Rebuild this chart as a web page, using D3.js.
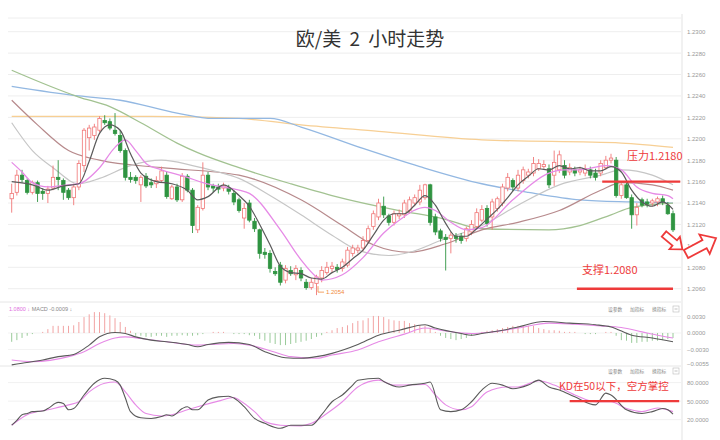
<!DOCTYPE html>
<html><head><meta charset="utf-8">
<script src="https://cdn.jsdelivr.net/npm/d3@7"></script>
<style>body{margin:0;background:#fff}svg{display:block}</style>
</head><body><svg id="c" width="720" height="440"></svg>
<script>
const titleText = "欧/美 2 小时走势";
const opens  = [1.2144,1.2150,1.2166,1.2161,1.2150,1.2159,1.2151,1.2149,1.2154,1.2164,1.2161,1.2152,1.2145,1.2155,1.2175,1.2201,1.2203,1.2208,1.2217,1.2216,1.2208,1.2203,1.2189,1.2164,1.2164,1.2157,1.2165,1.2159,1.2158,1.2161,1.2166,1.2144,1.2155,1.2143,1.2165,1.2152,1.2115,1.2135,1.2166,1.2156,1.2155,1.2154,1.2154,1.2149,1.2143,1.2126,1.2140,1.2123,1.2115,1.2094,1.2093,1.2076,1.2082,1.2068,1.2077,1.2073,1.2077,1.2066,1.2061,1.2065,1.2070,1.2075,1.2079,1.2080,1.2079,1.2082,1.2093,1.2096,1.2098,1.2105,1.2118,1.2127,1.2137,1.2128,1.2122,1.2128,1.2129,1.2133,1.2140,1.2141,1.2145,1.2157,1.2127,1.2114,1.2108,1.2107,1.2109,1.2109,1.2107,1.2113,1.2118,1.2124,1.2135,1.2127,1.2135,1.2140,1.2154,1.2161,1.2154,1.2161,1.2166,1.2168,1.2172,1.2174,1.2172,1.2166,1.2171,1.2175,1.2169,1.2171,1.2169,1.2168,1.2171,1.2168,1.2168,1.2173,1.2180,1.2180,1.2147,1.2157,1.2145,1.2129,1.2143,1.2141,1.2140,1.2141,1.2144,1.2138,1.2130];
const highs  = [1.2158,1.2171,1.2171,1.2163,1.2161,1.2161,1.2154,1.2156,1.2175,1.2180,1.2163,1.2154,1.2158,1.2180,1.2210,1.2213,1.2214,1.2221,1.2222,1.2219,1.2224,1.2208,1.2191,1.2169,1.2166,1.2166,1.2168,1.2163,1.2165,1.2174,1.2169,1.2157,1.2158,1.2168,1.2167,1.2154,1.2138,1.2178,1.2169,1.2158,1.2158,1.2159,1.2157,1.2152,1.2145,1.2140,1.2143,1.2126,1.2116,1.2098,1.2096,1.2080,1.2085,1.2082,1.2081,1.2082,1.2080,1.2069,1.2070,1.2073,1.2081,1.2085,1.2085,1.2083,1.2088,1.2099,1.2101,1.2101,1.2109,1.2119,1.2133,1.2144,1.2146,1.2130,1.2133,1.2134,1.2143,1.2146,1.2148,1.2157,1.2158,1.2158,1.2130,1.2116,1.2111,1.2113,1.2112,1.2112,1.2118,1.2124,1.2135,1.2138,1.2138,1.2144,1.2146,1.2158,1.2168,1.2163,1.2171,1.2174,1.2172,1.2183,1.2181,1.2180,1.2176,1.2189,1.2189,1.2180,1.2177,1.2174,1.2174,1.2176,1.2174,1.2172,1.2180,1.2184,1.2186,1.2183,1.2159,1.2159,1.2148,1.2140,1.2145,1.2144,1.2144,1.2146,1.2147,1.2141,1.2133];
const lows   = [1.2131,1.2147,1.2159,1.2148,1.2148,1.2141,1.2143,1.2140,1.2152,1.2152,1.2143,1.2143,1.2138,1.2152,1.2169,1.2189,1.2199,1.2206,1.2213,1.2208,1.2203,1.2187,1.2161,1.2159,1.2158,1.2141,1.2154,1.2154,1.2154,1.2159,1.2144,1.2143,1.2141,1.2141,1.2150,1.2112,1.2112,1.2133,1.2152,1.2150,1.2149,1.2151,1.2148,1.2138,1.2131,1.2116,1.2122,1.2113,1.2088,1.2088,1.2075,1.2072,1.2063,1.2065,1.2072,1.2068,1.2067,1.2059,1.2059,1.2054,1.2066,1.2073,1.2075,1.2075,1.2076,1.2080,1.2090,1.2093,1.2095,1.2102,1.2115,1.2124,1.2126,1.2119,1.2119,1.2125,1.2126,1.2130,1.2137,1.2138,1.2143,1.2119,1.2110,1.2104,1.2077,1.2093,1.2103,1.2102,1.2104,1.2110,1.2116,1.2122,1.2118,1.2115,1.2132,1.2137,1.2151,1.2151,1.2151,1.2158,1.2163,1.2165,1.2170,1.2172,1.2154,1.2156,1.2168,1.2163,1.2166,1.2165,1.2166,1.2165,1.2163,1.2161,1.2165,1.2171,1.2177,1.2145,1.2144,1.2144,1.2116,1.2119,1.2136,1.2136,1.2137,1.2137,1.2138,1.2129,1.2113];
const closes = [1.2149,1.2166,1.2162,1.2150,1.2159,1.2149,1.2149,1.2153,1.2164,1.2162,1.2150,1.2145,1.2155,1.2177,1.2208,1.2210,1.2211,1.2219,1.2215,1.2210,1.2205,1.2189,1.2164,1.2162,1.2161,1.2164,1.2156,1.2157,1.2161,1.2170,1.2146,1.2155,1.2143,1.2165,1.2152,1.2119,1.2136,1.2166,1.2155,1.2154,1.2153,1.2156,1.2151,1.2141,1.2133,1.2135,1.2124,1.2116,1.2093,1.2092,1.2079,1.2074,1.2066,1.2079,1.2074,1.2079,1.2070,1.2061,1.2066,1.2071,1.2077,1.2080,1.2081,1.2078,1.2085,1.2096,1.2098,1.2098,1.2105,1.2116,1.2130,1.2140,1.2129,1.2122,1.2130,1.2130,1.2140,1.2143,1.2145,1.2152,1.2157,1.2122,1.2113,1.2107,1.2106,1.2110,1.2107,1.2105,1.2116,1.2120,1.2131,1.2134,1.2121,1.2141,1.2144,1.2155,1.2164,1.2155,1.2166,1.2171,1.2169,1.2177,1.2177,1.2176,1.2157,1.2178,1.2185,1.2166,1.2173,1.2168,1.2171,1.2172,1.2166,1.2164,1.2177,1.2180,1.2182,1.2147,1.2157,1.2145,1.2129,1.2136,1.2138,1.2139,1.2142,1.2144,1.2141,1.2130,1.2115];

// moving averages: [candle index, price]
const ma5  = [[0,1.2160],[4,1.2157],[7,1.2152],[10,1.2156],[13,1.2158],[15,1.2179],[17,1.2205],[19,1.2213],[21,1.2208],[23,1.2186],[25,1.2168],[28,1.2160],[31,1.2158],[34,1.2152],[36,1.2143],[38,1.2146],[41,1.2157],[44,1.2147],[46,1.2137],[48,1.2120],[50,1.2101],[52,1.2081],[54,1.2075],[56,1.2074],[58,1.2070],[60,1.2069],[62,1.2075],[64,1.2080],[66,1.2088],[68,1.2096],[70,1.2110],[72,1.2124],[74,1.2130],[76,1.2130],[78,1.2138],[80,1.2147],[82,1.2138],[84,1.2121],[86,1.2109],[88,1.2109],[90,1.2116],[92,1.2125],[94,1.2134],[96,1.2145],[98,1.2157],[100,1.2165],[102,1.2172],[104,1.2171],[106,1.2175],[108,1.2172],[110,1.2173],[112,1.2170],[114,1.2170],[116,1.2174],[118,1.2169],[120,1.2152],[122,1.2141],[124,1.2137],[126,1.2141],[128,1.2134]];
const ma10 = [[0,1.2178],[2,1.2169],[4,1.2159],[7,1.2155],[11,1.2157],[13,1.2158],[17,1.2173],[20,1.2192],[22,1.2199],[24,1.2189],[26,1.2177],[29,1.2171],[34,1.2164],[37,1.2159],[44,1.2152],[46,1.2149],[52,1.2115],[56,1.2087],[59,1.2071],[60,1.2068],[64,1.2073],[68,1.2089],[72,1.2112],[75,1.2124],[80,1.2136],[82,1.2133],[85,1.2122],[88,1.2115],[91,1.2117],[97,1.2143],[104,1.2168],[107,1.2171],[110,1.2171],[115,1.2175],[118,1.2171],[121,1.2155],[124,1.2149],[127,1.2147],[128,1.2144]];
const ma20 = [[0,1.2215],[4,1.2189],[8,1.2173],[13,1.2158],[17,1.2163],[23,1.2175],[29,1.2180],[35,1.2175],[40,1.2169],[44,1.2163],[50,1.2147],[56,1.2129],[62,1.2110],[67,1.2096],[73,1.2091],[77,1.2094],[83,1.2105],[91,1.2119],[98,1.2138],[106,1.2157],[114,1.2166],[118,1.2171],[124,1.2166],[128,1.2157]];
const ma60 = [[0,1.2236],[5,1.2213],[11,1.2189],[17,1.2180],[29,1.2173],[44,1.2166],[56,1.2143],[64,1.2119],[70,1.2101],[77,1.2094],[84,1.2102],[91,1.2115],[98,1.2122],[106,1.2133],[114,1.2152],[118,1.2159],[124,1.2157],[128,1.2152]];
const ma120 = [[0,1.2264],[13,1.2239],[19,1.2230],[25,1.2215],[32,1.2196],[36,1.2187],[44,1.2173],[54,1.2158],[62,1.2147],[75,1.2133],[83,1.2126],[91,1.2116],[104,1.2115],[110,1.2119],[116,1.2129],[120,1.2136],[128,1.2140]];
const ma200 = [[0,1.2249],[13,1.2240],[21,1.2236],[32,1.2224],[39,1.2219],[50,1.2219],[56,1.2211],[68,1.2191],[79,1.2174],[91,1.2158],[100,1.2150],[110,1.2143],[120,1.2141],[128,1.2140]];
const ma250 = [[0,1.2221],[27,1.2221],[44,1.2219],[56,1.2213],[71,1.2207],[91,1.2199],[118,1.2196],[128,1.2192]];

const macdHist = [-0.0016,-0.0013,-0.0009,-0.0005,-0.0002,0,0.0002,0.0007,0.0013,0.0013,0.0013,0.0013,0.0014,0.0020,0.0029,0.0034,0.0038,0.0038,0.0036,0.0032,0.0027,0.0020,0.0011,0.0004,-0.0005,-0.0005,-0.0007,-0.0007,-0.0005,-0.0005,-0.0007,-0.0005,-0.0005,-0.0004,-0.0005,-0.0005,-0.0004,-0.0002,0,0.0002,0.0002,0.0002,0,-0.0002,-0.0002,-0.0002,-0.0004,-0.0005,-0.0011,-0.0014,-0.0018,-0.0020,-0.0022,-0.0022,-0.0020,-0.0018,-0.0016,-0.0014,-0.0011,-0.0007,-0.0004,0.0002,0.0005,0.0009,0.0011,0.0014,0.0018,0.0022,0.0023,0.0027,0.0031,0.0031,0.0029,0.0025,0.0023,0.0022,0.0022,0.0018,0.0016,0.0014,0.0013,0.0009,0.0002,-0.0005,-0.0009,-0.0011,-0.0013,-0.0011,-0.0009,-0.0005,-0.0002,0.0002,0.0004,0.0005,0.0007,0.0009,0.0011,0.0013,0.0013,0.0013,0.0013,0.0013,0.0009,0.0007,0.0005,0.0005,0.0004,0.0002,0.0002,0.0002,0,-0.0002,-0.0002,-0.0002,0,0.0002,0.0002,-0.0005,-0.0013,-0.0014,-0.0018,-0.0018,-0.0016,-0.0016,-0.0014,-0.0014,-0.0013,-0.0011,-0.0009];
const macdDif = [[0,-0.0058],[2,-0.0055],[6,-0.0049],[9,-0.0043],[12,-0.0039],[15,-0.0022],[17,-0.0007],[20,0.0001],[22,-0.0001],[24,-0.0007],[27,-0.0013],[30,-0.0016],[34,-0.0021],[36,-0.0025],[38,-0.0021],[42,-0.0017],[46,-0.0021],[49,-0.0034],[53,-0.0045],[56,-0.0046],[59,-0.0043],[62,-0.0037],[67,-0.0021],[71,-0.0004],[75,0.0005],[80,0.0015],[82,0.0009],[87,-0.0001],[89,-0.0004],[91,-0.0001],[95,0.0005],[98,0.0011],[103,0.0021],[108,0.0018],[113,0.0015],[116,0.0011],[120,-0.0004],[124,-0.0009],[128,-0.0016]];
const macdDea = [[0,-0.0049],[4,-0.0052],[11,-0.0043],[14,-0.0034],[17,-0.0019],[20,-0.0009],[22,-0.0007],[25,-0.0010],[30,-0.0016],[36,-0.0022],[43,-0.0019],[46,-0.0022],[51,-0.0035],[54,-0.0043],[59,-0.0046],[62,-0.0040],[67,-0.0031],[71,-0.0016],[76,-0.0002],[80,0.0009],[83,0.0005],[89,-0.0001],[93,0.0002],[98,0.0009],[104,0.0018],[109,0.0016],[114,0.0013],[118,0.0010],[122,0.0002],[125,-0.0004],[128,-0.0009]];
const kdK = [[0,11],[1,19],[2,28],[3,30],[4,33],[6,34],[7,38],[9,48],[10,46],[11,36],[12,38],[14,60],[16,79],[18,87],[20,84],[21,76],[22,55],[23,33],[25,23],[27,22],[29,25],[30,28],[31,26],[33,38],[34,41],[35,36],[36,36],[38,52],[40,57],[42,58],[43,55],[45,41],[47,22],[49,14],[52,6],[54,11],[56,11],[58,11],[60,28],[62,49],[64,60],[66,76],[67,84],[71,87],[72,82],[75,73],[77,76],[80,79],[81,81],[83,36],[85,33],[87,36],[89,49],[91,68],[93,79],[95,76],[97,70],[100,76],[102,84],[104,73],[106,68],[109,57],[113,44],[115,63],[116,60],[119,36],[122,30],[124,33],[126,38],[127,36],[128,29]];
const kdD = [[0,11],[3,28],[7,36],[11,44],[13,49],[15,65],[18,79],[20,81],[22,65],[24,44],[26,30],[29,26],[31,28],[34,36],[36,41],[40,50],[43,56],[44,52],[47,33],[49,17],[52,11],[56,10],[58,14],[61,30],[64,49],[67,73],[71,84],[74,76],[80,77],[82,60],[84,44],[87,36],[89,41],[92,65],[96,73],[98,73],[102,83],[105,76],[109,60],[113,49],[116,49],[119,38],[122,33],[125,39],[128,33]];

const priceTicks = [1.2060,1.2080,1.2100,1.2120,1.2140,1.2160,1.2180,1.2200,1.2220,1.2240,1.2260,1.2280,1.2300];
const macdTicks = [0.0030,0,-0.0030,-0.0055];
const kdTicks = [80,50,20];
const resistance = {level:1.2160, label:"压力1.2180", from:114.3, to:129.4};
const support = {level:1.2060, label:"支撑1.2080", from:109.4, to:128};
const kdNote = {level:50, label:"KD在50以下，空方掌控", from:108, to:129.2};
const lowPoint = {index:59, label:"1.2054"};
const macdLegend = ["1.0800 ↓", "MACD -0.0009 ↓"];
const panelButtons = ["设参数","加指标","换指标"];

const svg = d3.select("#c");
const x = d3.scaleLinear().domain([0,128]).range([11.7,673]);
const y = d3.scaleLinear().domain([1.2060,1.2300]).range([288.7,31.7]);
const yM = d3.scaleLinear().domain([-0.006,0.006]).range([366,300]);
const yK = d3.scaleLinear().domain([0,100]).range([432,370.3]);
const L = 8, R = 681;
const numFont = "'Liberation Sans', Arial, sans-serif";
const cjk = "'Noto Sans CJK SC', sans-serif";

// grid
const g = svg.append("g");
g.append("line").attr("x1",L).attr("x2",R).attr("y1",18).attr("y2",18).attr("stroke","#eeeeee");
g.selectAll(".gp").data(priceTicks).join("line").attr("x1",L).attr("x2",R)
  .attr("y1",d=>y(d)).attr("y2",d=>y(d)).attr("stroke","#eeeeee");
[302,366].forEach(v=>g.append("line").attr("x1",0).attr("x2",R).attr("y1",v).attr("y2",v).attr("stroke","#e6e6e6"));
g.selectAll(".gm").data(macdTicks.slice(0,3)).join("line").attr("x1",L).attr("x2",R)
  .attr("y1",d=>yM(d)).attr("y2",d=>yM(d)).attr("stroke","#f3f3f3");
g.selectAll(".gk").data(kdTicks).join("line").attr("x1",L).attr("x2",R)
  .attr("y1",d=>yK(d)).attr("y2",d=>yK(d)).attr("stroke","#f1f1f1");
g.append("line").attr("x1",682).attr("x2",682).attr("y1",14).attr("y2",440).attr("stroke","#e3e3e3");

// axes
function styleAxis(sel){
  sel.select(".domain").remove();
  sel.selectAll("text").attr("font-size",6).attr("fill","#999").attr("font-family",numFont);
}
svg.append("g").attr("transform","translate(683,0)")
  .call(d3.axisRight(y).tickValues(priceTicks).tickFormat(d3.format(".4f")).tickSize(0).tickPadding(4)).call(styleAxis);
svg.append("g").attr("transform","translate(683,0)")
  .call(d3.axisRight(yM).tickValues(macdTicks).tickFormat(d3.format(".4f")).tickSize(0).tickPadding(4)).call(styleAxis);
svg.append("g").attr("transform","translate(683,0)")
  .call(d3.axisRight(yK).tickValues(kdTicks).tickFormat(d3.format(".4f")).tickSize(0).tickPadding(4)).call(styleAxis);

// moving averages (long ones first)
const line = d3.line().x(d=>x(d[0])).y(d=>y(d[1])).curve(d3.curveMonotoneX);
const maDefs = [
  [ma250,"#f7cf94",1.3],[ma200,"#93b8e2",1.3],[ma120,"#a2c291",1.3],
  [ma60,"#b78a8c",1.2],[ma20,"#c6c6c6",1.2]
];
maDefs.forEach(([d,c,w])=>svg.append("path").attr("d",line(d)).attr("fill","none").attr("stroke",c).attr("stroke-width",w));

// candles
const idx = d3.range(opens.length);
const up = "#f07676", dn = "#2f9441";
const cg = svg.append("g");
cg.selectAll(".w").data(idx).join("line")
  .attr("x1",i=>x(i)).attr("x2",i=>x(i)).attr("y1",i=>y(highs[i])).attr("y2",i=>y(lows[i]))
  .attr("stroke",i=>closes[i]>=opens[i]?up:dn).attr("stroke-width",0.9);
cg.selectAll(".b").data(idx).join("rect")
  .attr("x",i=>x(i)-1.7).attr("width",3.4)
  .attr("y",i=>y(Math.max(opens[i],closes[i])))
  .attr("height",i=>Math.max(1,Math.abs(y(opens[i])-y(closes[i]))))
  .attr("fill",i=>closes[i]>=opens[i]?"#fff":dn)
  .attr("stroke",i=>closes[i]>=opens[i]?up:dn).attr("stroke-width",0.8);

svg.append("path").attr("d",line(ma10)).attr("fill","none").attr("stroke","#e68ae6").attr("stroke-width",1.3);
svg.append("path").attr("d",line(ma5)).attr("fill","none").attr("stroke","#5a5a5a").attr("stroke-width",1.2);

// low marker
const lx = x(lowPoint.index)+1.5, ly = y(lows[lowPoint.index])-3;
svg.append("path").attr("d",`M${lx},${ly-6}V${ly}H${lx+6}`).attr("fill","none").attr("stroke","#f08a3c").attr("stroke-width",0.8);
svg.append("text").attr("x",lx+8).attr("y",ly).attr("dy","0.35em").attr("font-size",6)
  .attr("font-family",numFont).attr("fill","#f08a3c").text(lowPoint.label);

// title
svg.append("text").attr("x",370).attr("y",37).attr("text-anchor","middle").attr("dominant-baseline","central")
  .attr("font-family",cjk).attr("font-size",19).attr("word-spacing",4).attr("fill","#333").text(titleText);

// annotations
const red = "#ee3a3a";
svg.append("line").attr("x1",x(resistance.from)).attr("x2",x(resistance.to))
  .attr("y1",y(resistance.level)).attr("y2",y(resistance.level)).attr("stroke",red).attr("stroke-width",2.4);
svg.append("text").attr("x",627).attr("y",160).attr("font-family",cjk).attr("font-size",11).attr("fill",red).text(resistance.label);
svg.append("line").attr("x1",x(support.from)).attr("x2",x(support.to))
  .attr("y1",y(support.level)).attr("y2",y(support.level)).attr("stroke",red).attr("stroke-width",2.4);
svg.append("text").attr("x",582).attr("y",274).attr("font-family",cjk).attr("font-size",11).attr("fill",red).text(support.label);

function arrowPts(Ln,w,hw,hL){return [[0,-w/2],[Ln-hL,-w/2],[Ln-hL,-hw/2],[Ln,0],[Ln-hL,hw/2],[Ln-hL,w/2],[0,w/2]];}
svg.append("polygon").attr("points",arrowPts(24,7,16,10).join(" ")).attr("transform","translate(664,234) rotate(40)")
  .attr("fill","#fff").attr("stroke",red).attr("stroke-width",1.8).attr("stroke-linejoin","miter");
svg.append("polygon").attr("points",arrowPts(34,9,22,13).join(" ")).attr("transform","translate(686,254) rotate(-28)")
  .attr("fill","#fff").attr("stroke",red).attr("stroke-width",1.8).attr("stroke-linejoin","miter");

// MACD panel
const mg = svg.append("g");
mg.selectAll("line").data(idx).join("line")
  .attr("x1",i=>x(i)).attr("x2",i=>x(i)).attr("y1",yM(0)).attr("y2",i=>yM(macdHist[i]))
  .attr("stroke",i=>macdHist[i]>=0?"#f2a3a3":"#9acb9a").attr("stroke-width",1);
const lineM = d3.line().x(d=>x(d[0])).y(d=>yM(d[1])).curve(d3.curveMonotoneX);
svg.append("path").attr("d",lineM(macdDea)).attr("fill","none").attr("stroke","#e68ae6").attr("stroke-width",1.1);
svg.append("path").attr("d",lineM(macdDif)).attr("fill","none").attr("stroke","#5a5a5a").attr("stroke-width",1.1);
const lg = svg.append("text").attr("x",9).attr("y",311).attr("font-size",5.5).attr("font-family",numFont);
lg.append("tspan").attr("fill","#e070e0").text(macdLegend[0]+"  ");
lg.append("tspan").attr("fill","#888").text(macdLegend[1]);

// KD panel
const lineK = d3.line().x(d=>x(d[0])).y(d=>yK(d[1])).curve(d3.curveMonotoneX);
svg.append("path").attr("d",lineK(kdD)).attr("fill","none").attr("stroke","#e68ae6").attr("stroke-width",1.1);
svg.append("path").attr("d",lineK(kdK)).attr("fill","none").attr("stroke","#5a5a5a").attr("stroke-width",1.1);
svg.append("line").attr("x1",x(kdNote.from)).attr("x2",x(kdNote.to)).attr("y1",yK(kdNote.level)).attr("y2",yK(kdNote.level))
  .attr("stroke",red).attr("stroke-width",2.4);
svg.append("text").attr("x",559).attr("y",390).attr("font-family",cjk).attr("font-size",10.5).attr("fill",red).text(kdNote.label);

// panel buttons
[311,373].forEach(by=>{
  panelButtons.forEach((t,k)=>svg.append("text").attr("x",608+k*22).attr("y",by).attr("font-size",4.8)
    .attr("font-family",cjk).attr("fill","#888").text(t));
  svg.append("rect").attr("x",673).attr("y",by-5).attr("width",6).attr("height",6).attr("fill","#fff").attr("stroke","#bbb").attr("stroke-width",0.6);
  svg.append("line").attr("x1",674.5).attr("x2",677.5).attr("y1",by-2).attr("y2",by-2).attr("stroke","#999").attr("stroke-width",0.6);
});
</script></body></html>
